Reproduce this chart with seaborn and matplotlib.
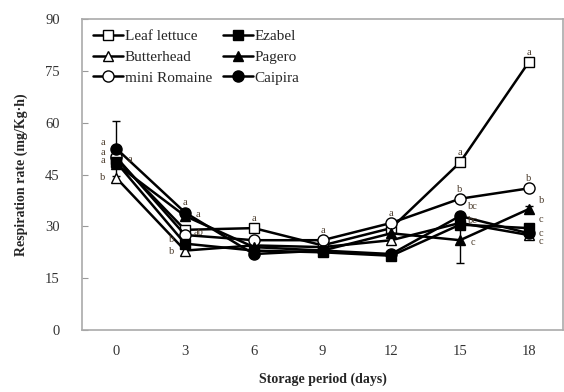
import matplotlib
matplotlib.use("Agg")
import matplotlib.pyplot as plt
import seaborn as sns
import pandas as pd
from matplotlib.ticker import FixedLocator

sns.set_style("white")
plt.rcParams['font.family'] = ['Liberation Serif', 'DejaVu Serif']

days = [0, 3, 6, 9, 12, 15, 18]
series_names = ['Leaf lettuce', 'Butterhead', 'mini Romaine', 'Ezabel', 'Pagero', 'Caipira']

leaf_lettuce = [49.5, 29.0, 29.5, 24.5, 29.5, 48.5, 77.5]
butterhead = [44.0, 23.0, 24.5, 24.0, 26.0, 31.0, 27.5]
mini_romaine = [50.0, 27.5, 26.0, 26.0, 31.0, 38.0, 41.0]
ezabel = [48.5, 25.0, 23.0, 22.5, 21.5, 30.5, 29.5]
pagero = [48.0, 33.0, 24.0, 23.0, 28.0, 26.0, 35.0]
caipira = [52.5, 34.0, 22.0, 23.0, 22.0, 33.0, 28.0]

caipira_err = [8.0, 1.0, 1.0, 1.0, 1.0, 1.0, 1.0]
pagero_err = [1.0, 1.0, 1.0, 1.0, 1.0, 6.5, 1.0]

leaf_letters = ['a', '', 'a', '', '', 'a', 'a']
butter_letters = ['b', 'b', '', '', '', 'bc', 'c']
romaine_letters = ['a', 'ab', '', 'a', 'a', 'b', 'b']
ezabel_letters = ['a', 'b', '', '', '', '', 'c']
pagero_letters = ['', 'a', '', '', '', 'c', 'b']
caipira_letters = ['a', 'a', '', '', '', 'bc', 'c']

values = [leaf_lettuce, butterhead, mini_romaine, ezabel, pagero, caipira]
letters = [leaf_letters, butter_letters, romaine_letters, ezabel_letters, pagero_letters, caipira_letters]
markers = ['s', '^', 'o', 's', '^', 'o']
filled = [False, False, False, True, True, True]

# where each series' letter sits relative to its marker (points)
letter_offsets = [
    [(-10, -1), None, (0, 7), None, None, (0, 7), (0, 7)],
    [(-10, 0), (-10, -1), None, None, None, (9, 2), (9, -5)],
    [(-10, 3.5), (10, 2), None, (0, 7), (0, 7), (0, 7), (0, 7)],
    [(10, 2), (-10, 3), None, None, None, None, (9, 6)],
    [None, (9, 1), None, None, None, (9, -2), (9, 6)],
    [(-10, 4.5), (0, 7), None, None, None, (9, 7), (9, 0)],
]

fig = plt.figure(figsize=(5.64, 3.92), dpi=100)
ax = fig.add_axes([0.1454, 0.158, 0.853, 0.7935])

for name, vals, mk, fl in zip(series_names, values, markers, filled):
    df = pd.DataFrame({'day': days, 'rate': vals})
    sns.lineplot(data=df, x='day', y='rate', ax=ax, color='black', lw=1.8,
                 marker=mk, markersize=7.5 if mk != 'o' else 8,
                 markerfacecolor='black' if fl else 'white',
                 markeredgecolor='black', markeredgewidth=1.0, label=name)

ax.errorbar(days, caipira, yerr=caipira_err, fmt='none', ecolor='black',
            elinewidth=1.0, capsize=3, zorder=1)
ax.errorbar(days, pagero, yerr=pagero_err, fmt='none', ecolor='black',
            elinewidth=1.0, capsize=3, zorder=1)

for vals, lets, offs in zip(values, letters, letter_offsets):
    for d, v, t, o in zip(days, vals, lets, offs):
        if t and o is not None:
            ax.annotate(t, (d, v), xytext=o, textcoords='offset points',
                        ha='center', va='center', fontsize=7.5, color='#4a3a2a')

ax.set_xlim(-1.5, 19.5)
ax.set_ylim(0, 90)
ax.set_xticks(days)
ax.set_xticklabels([str(d) for d in days])
ax.xaxis.set_minor_locator(FixedLocator([1.5, 4.5, 7.5, 10.5, 13.5, 16.5]))
ax.set_yticks([0, 15, 30, 45, 60, 75, 90])
ax.tick_params(axis='x', which='major', length=0, pad=11, labelsize=10.5, labelcolor='#333333')
ax.tick_params(axis='x', which='minor', length=4, direction='in', color='#999999', width=1)
ax.tick_params(axis='y', length=4, direction='in', color='#999999', pad=16, labelsize=10.5,
               labelcolor='#333333', left=True)
for sp in ax.spines.values():
    sp.set_color('#aaaaaa')
    sp.set_linewidth(1.2)

ax.set_xlabel('Storage period (days)', fontweight='bold', fontsize=10, labelpad=10)
ax.set_ylabel('Respiration rate (mg/Kg·h)', fontweight='bold', fontsize=10, labelpad=12)

ax.legend(ncol=2, loc='upper left', bbox_to_anchor=(0.0, 1.0), frameon=False,
          fontsize=11, handlelength=2.0, handletextpad=0.1, columnspacing=0.7,
          labelspacing=0.45, borderaxespad=0.3)

fig.savefig('out.png', dpi=100)
